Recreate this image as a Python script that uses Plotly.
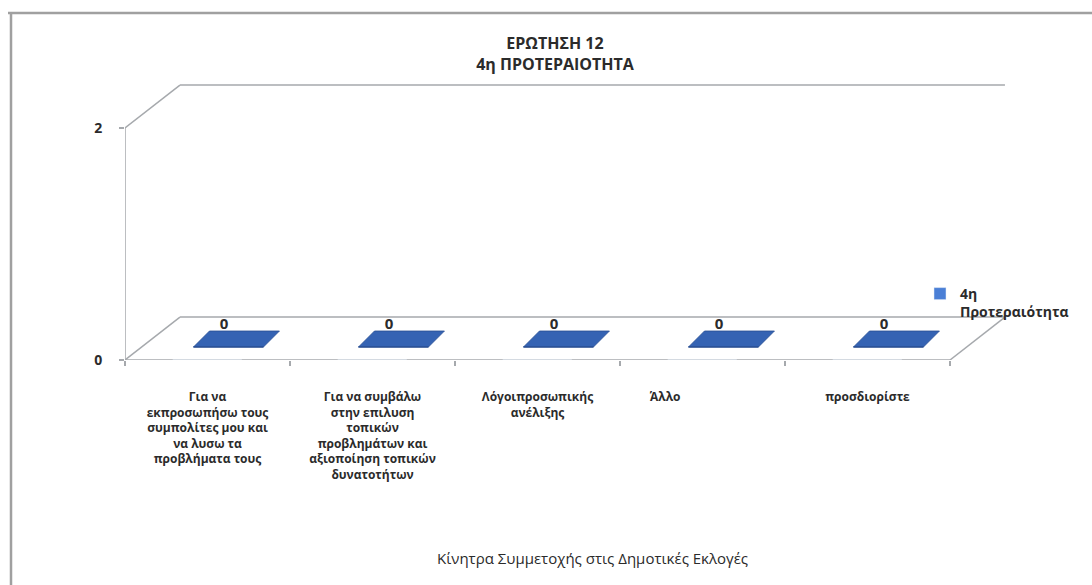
import plotly.graph_objects as go

# ---- data ----
categories = [
    "Για να<br>εκπροσωπήσω τους<br>συμπολίτες μου και<br>να λυσω τα<br>προβλήματα τους",
    "Για να συμβάλω<br>στην επιλυση<br>τοπικών<br>προβλημάτων και<br>αξιοποίηση τοπικών<br>δυνατοτήτων",
    "Λόγοιπροσωπικής<br>ανέλιξης",
    "Άλλο" + "\u00a0" * 24,
    "προσδιορίστε",
]
values = [0, 0, 0, 0, 0]
series_name = "4η<br>Προτεραιότητα"
title_lines = ["ΕΡΩΤΗΣΗ 12", "4η ΠΡΟΤΕΡΑΙΟΤΗΤΑ"]
x_title = "Κίνητρα Συμμετοχής στις Δημοτικές Εκλογές"
y_ticks = [0, 2]

# ---- style / geometry ----
FONT = "Open Sans"
BAR = "#3563b3"
BAR_EDGE = "#2a4f93"
FRAME = "#a6a9ad"
TXT = "#2b2b2b"
DX, DY = 0.333, 0.37          # depth offset of the back wall
W = 0.424                      # bar width
FDX, FDY = 0.127, 0.112        # bar front edge offset
BDX, BDY = 0.224, 0.25         # bar back edge offset

xs = list(range(len(categories)))
fig = go.Figure()

# bar polygons (front face + top face) from data values
px, py = [], []
for i, v in zip(xs, values):
    l, r = i - W / 2, i + W / 2
    px += [l + FDX, r + FDX, r + FDX, l + FDX, l + FDX, None]
    py += [FDY, FDY, v + FDY, v + FDY, FDY, None]
    px += [l + FDX, r + FDX, r + BDX, l + BDX, l + FDX, None]
    py += [v + FDY, v + FDY, v + BDY, v + BDY, v + FDY, None]
fig.add_trace(go.Scatter(x=px, y=py, mode="lines", fill="toself",
                         fillcolor=BAR, line=dict(color=BAR_EDGE, width=0.8),
                         showlegend=False, hoverinfo="skip"))

# legend entry as a real bar trace (zero height)
fig.add_trace(go.Bar(x=xs, y=values, name=series_name, marker_color="#4a7fd6",
                     width=W, showlegend=True))

# value labels
fig.add_trace(go.Scatter(x=[i + 0.10 for i in xs], y=[v + 0.30 for v in values],
                         mode="text", text=[str(v) for v in values],
                         textfont=dict(family=FONT, size=15, color=TXT, weight="bold"),
                         showlegend=False, hoverinfo="skip"))

# 3D frame lines
x0, x1 = -0.5, len(categories) - 0.5
ymax = max(y_ticks)
seg = [
    (x0, 0, x0, ymax),
    (x0, 0, x1, 0),
    (x0, 0, x0 + DX, DY),
    (x0 + DX, DY, x1 + DX, DY),
    (x1, 0, x1 + DX, DY),
    (x0, ymax, x0 + DX, ymax + DY),
    (x0 + DX, ymax + DY, x1 + DX, ymax + DY),
]
shapes = [dict(type="line", xref="x", yref="y", x0=a, y0=b, x1=c, y1=d,
               line=dict(color=FRAME, width=1.5), layer="below") for a, b, c, d in seg]

# outer frame (top + left)
PL, PR, PT, PB = 125, 82, 80, 225
PW, PH = 1092 - PL - PR, 585 - PT - PB
def pxx(p):
    return (p - PL) / PW
def pxy(p):
    return (585 - PB - p) / PH
shapes.append(dict(type="line", xref="paper", yref="paper", x0=pxx(8), y0=pxy(13),
                   x1=pxx(1092), y1=pxy(13), line=dict(color="#a0a0a0", width=2.5)))
shapes.append(dict(type="line", xref="paper", yref="paper", x0=pxx(11), y0=pxy(13),
                   x1=pxx(11), y1=pxy(585), line=dict(color="#a0a0a0", width=2.5)))

fig.update_layout(
    width=1092, height=585,
    margin=dict(l=PL, r=PR, t=PT, b=PB),
    paper_bgcolor="white", plot_bgcolor="white",
    shapes=shapes,
    showlegend=True,
    title=dict(text="<br>".join(title_lines), x=555 / 1092, xref="container", xanchor="center",
               y=1 - 49 / 585, yref="container", yanchor="top",
               font=dict(family=FONT, size=16, color=TXT, weight="bold")),
    legend=dict(x=pxx(920), y=pxy(278), xanchor="left", yanchor="top",
                valign="top", bgcolor="rgba(0,0,0,0)",
                font=dict(family=FONT, size=14, color=TXT, weight="bold"),
                itemwidth=30, tracegroupgap=0),
    annotations=[dict(text=x_title, xref="paper", yref="paper", x=pxx(592), y=pxy(558),
                      xanchor="center", yanchor="middle", showarrow=False,
                      font=dict(family=FONT, size=15, color=TXT))],
    bargap=0,
)
fig.update_xaxes(range=[x0, x0 + PW / 165.0], showgrid=False, zeroline=False, showline=False,
                 tickvals=xs, ticktext=categories, ticks="", ticklabelstandoff=28,
                 tickfont=dict(family=FONT, size=12, color=TXT, weight="bold"),
                 minor=dict(tickvals=[k - 0.5 for k in range(len(categories) + 1)],
                            ticks="outside", ticklen=5, tickcolor=FRAME, tickwidth=1.5),
                 fixedrange=True, automargin=False)
fig.update_yaxes(range=[0, PH / 116.0], showgrid=False, zeroline=False, showline=False,
                 tickvals=y_ticks, ticks="outside", ticklen=5, tickcolor=FRAME, tickwidth=1.5,
                 ticklabelstandoff=14,
                 tickfont=dict(family=FONT, size=14, color=TXT, weight="bold"),
                 fixedrange=True, automargin=False)

fig.write_html("out.html", config={"displayModeBar": False},
               post_script="document.body.style.margin='0px';")
